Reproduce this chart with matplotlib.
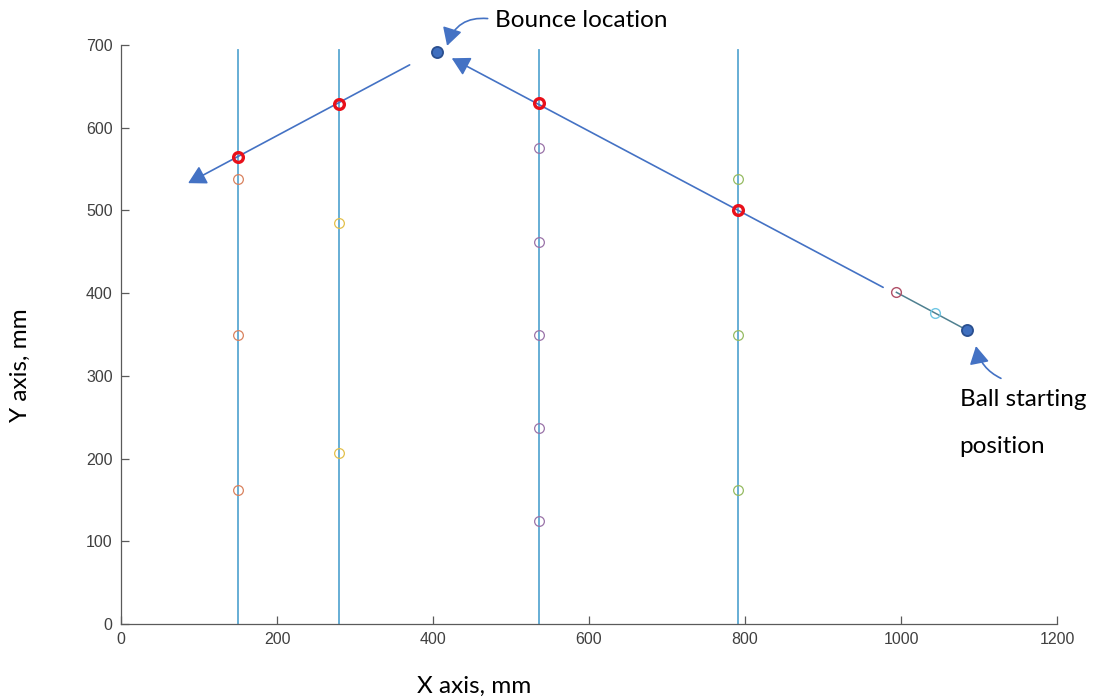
import matplotlib
matplotlib.use("Agg")
import matplotlib.pyplot as plt

# =====================================================
# Data
# =====================================================

sensor_x = [150, 280, 536, 791]
sensor_top = 694

# detections on each sensor line (open circles)
det_150 = [538, 350, 162]
det_280 = [485, 207]
det_536 = [575, 462, 350, 237, 125]
det_791 = [538, 350, 162]
det_colors = ["#d9825f", "#e3c04a", "#9a73a8", "#96bb62"]

# trajectory crossing points (red circles)
hit_x = [150, 280, 536, 791]
hit_y = [565, 629, 630, 501]

# start and bounce
start_xy = (1085, 355)
bounce_xy = (405, 691)

# early samples near the start
early_x = [994, 1043]
early_y = [401, 376]
early_colors = ["#b05068", "#6fc6e4"]

# drawn arrows (tail, head)
arrow_in = ((977, 407), (424, 684))
arrow_out = ((370, 676), (86, 533))

# callout arrows (tail, head)
bounce_callout = ((470, 732), (418, 699))
start_callout = ((1128, 297), (1096, 336))

# =====================================================
# Figure
# =====================================================

fig = plt.figure(figsize=(11, 6.99), dpi=100)
ax = fig.add_axes([0.11, 0.1073, 0.851, 0.8283])

line_color = "#5aa8d2"
for x in sensor_x:
    ax.plot([x, x], [0, sensor_top], color=line_color, lw=1.3, zorder=1)

det_lists = [det_150, det_280, det_536, det_791]
for x, ys, c in zip(sensor_x, det_lists, det_colors):
    ax.plot([x] * len(ys), ys, "o", mfc="none", mec=c, ms=7, mew=0.9, zorder=3)

# short segment from start
ax.plot([start_xy[0], early_x[0]], [start_xy[1], early_y[0]],
        color="#4f8090", lw=1.1, zorder=2)
for x, y, c in zip(early_x, early_y, early_colors):
    ax.plot(x, y, "o", mfc="none", mec=c, ms=7, mew=1.0, zorder=3)

# trajectory arrows
arrow_color = "#4472c4"
for tail, head in [arrow_in, arrow_out]:
    ax.annotate("", xy=head, xytext=tail,
                arrowprops=dict(arrowstyle="-|>,head_length=0.9,head_width=0.5",
                                color=arrow_color, lw=1.2,
                                mutation_scale=12, shrinkA=0, shrinkB=0),
                zorder=4)

ax.plot(hit_x, hit_y, "o", mfc="none", mec="#e8101a", ms=7, mew=2.4, zorder=5)

ax.plot(*start_xy, "o", mfc="#3f6fbf", mec="#2a4f8f", ms=8, mew=1.3, zorder=6)
ax.plot(*bounce_xy, "o", mfc="#3f6fbf", mec="#2a4f8f", ms=8, mew=1.3, zorder=6)

# =====================================================
# Callouts
# =====================================================

txt_font = "Lato"
txt_size = 17.5

for (tail, head), rad in [(bounce_callout, 0.4), (start_callout, -0.25)]:
    ax.annotate("", xy=head, xytext=tail, annotation_clip=False,
                arrowprops=dict(arrowstyle="-|>,head_length=0.9,head_width=0.5",
                                color=arrow_color, lw=1.2, mutation_scale=12,
                                shrinkA=0, shrinkB=0,
                                connectionstyle=f"arc3,rad={rad}"))

ax.text(480, 730, "Bounce location", fontsize=txt_size, family=txt_font,
        va="center", ha="left", clip_on=False)
ax.text(1075, 271, "Ball starting", fontsize=txt_size, family=txt_font,
        va="center", ha="left", clip_on=False)
ax.text(1075, 214, "position", fontsize=txt_size, family=txt_font,
        va="center", ha="left", clip_on=False)

# =====================================================
# Axes styling
# =====================================================

ax.set_xlim(0, 1200)
ax.set_ylim(0, 700)
ax.set_xticks(range(0, 1201, 200))
ax.set_yticks(range(0, 701, 100))

for side in ["top", "right"]:
    ax.spines[side].set_visible(False)
for side in ["left", "bottom"]:
    ax.spines[side].set_color("#5a5a5a")
    ax.spines[side].set_linewidth(0.9)

ax.tick_params(direction="in", length=6, width=0.9, color="#5a5a5a",
               labelsize=11.5, labelcolor="#404040", pad=6)
for lab in ax.get_xticklabels() + ax.get_yticklabels():
    lab.set_family("Liberation Sans")

ax.set_xlabel("X axis, mm", fontsize=txt_size, family=txt_font)
ax.set_ylabel("Y axis, mm", fontsize=txt_size, family=txt_font)
ax.xaxis.set_label_coords(0.377, -0.107)
ax.yaxis.set_label_coords(-0.108, 0.447)
ax.xaxis.label.set_va("center")
ax.yaxis.label.set_va("center")

fig.savefig("out.png", dpi=100)
plt.close(fig)
